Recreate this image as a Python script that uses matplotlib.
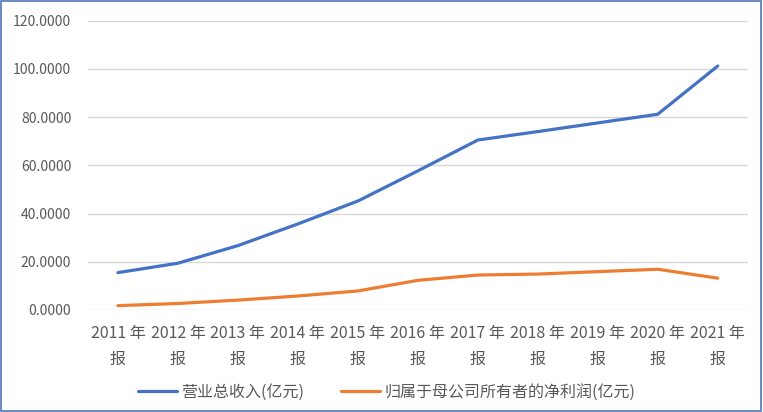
import numpy as np
import matplotlib
matplotlib.use("Agg")
import matplotlib.pyplot as plt
from matplotlib.patches import Rectangle
from matplotlib.ticker import FormatStrFormatter

plt.rcParams['font.family'] = ['Noto Sans CJK SC', 'DejaVu Sans']

years = ["2011", "2012", "2013", "2014", "2015", "2016",
         "2017", "2018", "2019", "2020", "2021"]
revenue = [15.5, 19.4, 26.7, 35.7, 45.2, 57.7, 70.5, 74.0, 77.6, 81.2, 101.2]
net_profit = [1.8, 2.7, 4.1, 5.8, 7.9, 12.3, 14.5, 14.9, 15.9, 16.9, 13.2]
series_names = ["营业总收入(亿元)", "归属于母公司所有者的净利润(亿元)"]

labels = [f"{y} 年\n报" for y in years]
x = np.arange(len(years))

fig = plt.figure(figsize=(7.63, 4.12), dpi=100, facecolor="white")
ax = fig.add_axes([0.1153, 0.2476, 0.8647, 0.7022])

ax.plot(x, revenue, color="#4472C4", lw=2.3, label=series_names[0],
        solid_capstyle="round")
ax.plot(x, net_profit, color="#ED7D31", lw=2.3, label=series_names[1],
        solid_capstyle="round")

ax.set_xlim(-0.5, len(years) - 0.5)
ax.set_ylim(0, 120)
ax.set_yticks(np.arange(0, 121, 20))
ax.yaxis.set_major_formatter(FormatStrFormatter("%.4f"))
ax.set_xticks(x)
ax.set_xticklabels(labels, linespacing=1.65, fontsize=11.5)
ax.grid(axis="y", color="#D9D9D9", lw=1)
ax.set_axisbelow(True)
for s in ax.spines.values():
    s.set_visible(False)
ax.tick_params(length=0, colors="#595959")
ax.tick_params(axis="y", labelsize=10, pad=12)
ax.tick_params(axis="x", pad=11)

fig.legend(loc="center", bbox_to_anchor=(0.507, 0.048), ncol=2, frameon=False,
           fontsize=11.5, labelcolor="#595959", handlelength=2.4,
           columnspacing=2.3, handletextpad=0.3)

fig.add_artist(Rectangle((0.001, 0.002), 0.997, 0.995, transform=fig.transFigure,
                         fill=False, edgecolor="#4F74B8", lw=1.2))

fig.savefig("out.png", dpi=100, facecolor="white")
